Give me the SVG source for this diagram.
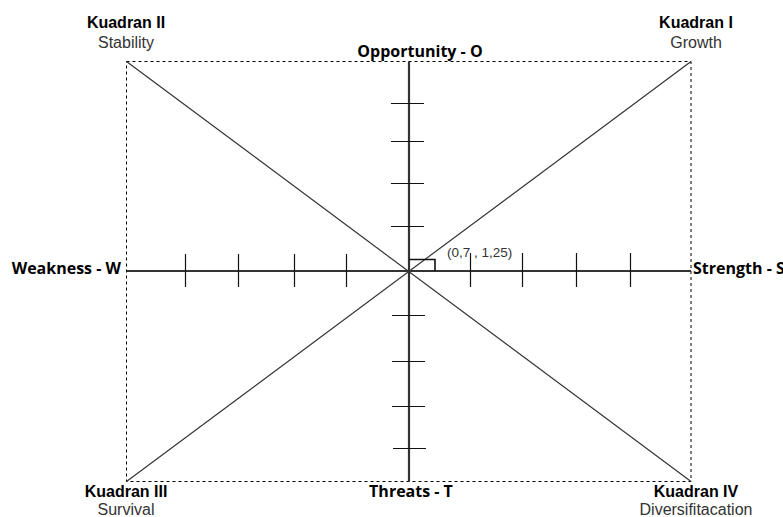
<svg xmlns="http://www.w3.org/2000/svg" width="783" height="517" viewBox="0 0 783 517">
<style>
.frame{fill:none;stroke:#000;stroke-width:1;stroke-dasharray:3 3}
.diag{stroke:#333;stroke-width:1.2;fill:none}
.axis{stroke:#333;stroke-width:2.2;fill:none}
.tick{stroke:#111;stroke-width:1.2}
.q{font-family:"Liberation Sans",Arial,sans-serif;font-size:16px;font-weight:bold;fill:#000;text-anchor:middle}
.qs{font-family:"Liberation Sans",Arial,sans-serif;font-size:16px;fill:#333;text-anchor:middle}
.ax{font-family:"Open Sans","Noto Sans",sans-serif;font-size:16px;font-weight:bold;fill:#000}
.pt{font-family:"Liberation Sans",Arial,sans-serif;font-size:13.5px;fill:#333}
</style>
<rect width="783" height="517" fill="#fff"/>
<g id="connectors">
<rect class="frame" x="126.5" y="61.5" width="564.5" height="420"/>
<line class="diag" x1="126.5" y1="61.5" x2="691" y2="481.5"/>
<line class="diag" x1="691" y1="61.5" x2="126.5" y2="481.5"/>
<line class="axis" x1="126.5" y1="271" x2="691" y2="271"/>
<line class="axis" x1="409" y1="61.5" x2="409" y2="481.5"/>
<g class="tick">
<line x1="391" y1="103.5" x2="424" y2="103.5"/>
<line x1="391" y1="141.5" x2="424" y2="141.5"/>
<line x1="391" y1="183.5" x2="424" y2="183.5"/>
<line x1="391" y1="226.5" x2="424" y2="226.5"/>
<line x1="392" y1="315.5" x2="425" y2="315.5"/>
<line x1="392" y1="361.5" x2="425" y2="361.5"/>
<line x1="392" y1="406.5" x2="425" y2="406.5"/>
<line x1="393" y1="448.5" x2="426" y2="448.5"/>
<line x1="185.5" y1="254" x2="185.5" y2="287"/>
<line x1="238.5" y1="254" x2="238.5" y2="287"/>
<line x1="294.5" y1="254" x2="294.5" y2="287"/>
<line x1="346.5" y1="254" x2="346.5" y2="287"/>
<line x1="470.5" y1="253" x2="470.5" y2="287"/>
<line x1="522.5" y1="253" x2="522.5" y2="287"/>
<line x1="576.5" y1="253" x2="576.5" y2="287"/>
<line x1="630.5" y1="253" x2="630.5" y2="287"/>
</g>
<polyline points="409,259.5 435,259.5 435,271" fill="none" stroke="#111" stroke-width="1.6"/>
</g>
<g id="point"><text class="pt" x="447" y="257">(0,7 , 1,25)</text></g>
<g id="q2"><text class="q" x="126" y="28">Kuadran II</text><text class="qs" x="126" y="48">Stability</text></g>
<g id="q1"><text class="q" x="696" y="28">Kuadran I</text><text class="qs" x="696" y="48">Growth</text></g>
<g id="q3"><text class="q" x="126" y="497">Kuadran III</text><text class="qs" x="126" y="515">Survival</text></g>
<g id="q4"><text class="q" x="696" y="497">Kuadran IV</text><text class="qs" x="696" y="515">Diversifitacation</text></g>
<g id="opportunity"><text class="ax" x="420" y="57" text-anchor="middle">Opportunity - O</text></g>
<g id="threats"><text class="ax" x="411" y="497" text-anchor="middle">Threats - T</text></g>
<g id="weakness"><text class="ax" x="121" y="274" text-anchor="end">Weakness - W</text></g>
<g id="strength"><text class="ax" x="693" y="274">Strength - S</text></g>
</svg>
